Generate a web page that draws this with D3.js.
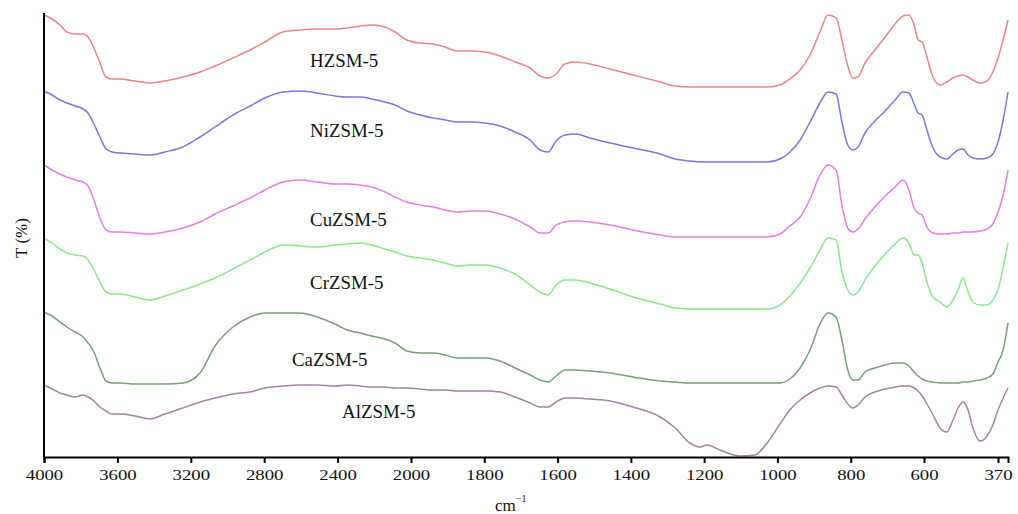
<!DOCTYPE html>
<html>
<head>
<meta charset="utf-8">
<script src="https://cdn.jsdelivr.net/npm/d3@7"></script>
<style>
  body { margin: 0; background: #fff; }
  text { font-family: "Liberation Serif", "Times New Roman", serif; fill: #111; }
</style>
</head>
<body>
<svg id="chart" width="1018" height="514"></svg>
<script>
// wavenumber grid (cm-1), shared by all spectra
var wavenumbers = [4000, 3956, 3913, 3875, 3831, 3787, 3760, 3728, 3695, 3662, 3629, 3586, 3504, 3422, 3341, 3243,
  3150, 3068, 2970, 2877, 2796, 2698, 2605, 2512, 2414, 2349, 2278, 2213, 2142, 2087, 2022, 1975, 1940, 1907,
  1874, 1839, 1798, 1757, 1716, 1675, 1648, 1626, 1604, 1580, 1552, 1512, 1457, 1394, 1320, 1279, 1239, 1211,
  1192, 1157, 1102, 1061, 1028, 993, 966, 938, 911, 884, 862, 840, 824, 808, 794, 780, 761, 734, 706, 679, 657,
  641, 627, 616, 605, 591, 572, 550, 529, 510, 494, 479, 463, 448, 426, 404, 386, 370, 354, 339];

// transmittance, stacked with offsets (arbitrary units)
var hzsm = [442, 438, 432, 425, 423, 423, 420, 409, 394, 380, 378, 378, 376, 374, 376, 380, 385, 391, 399, 407,
  415, 425, 427, 428, 428, 429, 431, 432, 430, 425, 417, 414, 413, 410, 406, 406, 405, 401, 395, 389, 381, 379,
  383, 393, 395, 393, 388, 382, 375, 371, 370, 370, 370, 370, 370, 370, 370, 372, 378, 387, 402, 425, 442, 439,
  417, 391, 379, 380, 394, 407, 420, 433, 441, 442, 432, 417, 415, 400, 380, 372, 375, 379, 381, 382, 380, 377,
  374, 376, 385, 399, 417, 437];
var nizsm = [366, 362, 357, 354, 351, 348, 344, 333, 320, 308, 305, 304, 303, 302, 305, 310, 320, 330, 342, 351,
  359, 365, 366, 364, 361, 360, 360, 358, 355, 352, 346, 342, 339, 337, 335, 335, 334, 331, 325, 317, 307, 305,
  316, 322, 323, 319, 314, 309, 303, 298, 296, 295, 295, 295, 295, 295, 295, 298, 305, 317, 335, 354, 365, 363,
  335, 312, 307, 310, 324, 336, 346, 357, 365, 364, 353, 344, 342, 327, 309, 300, 298, 303, 307, 308, 302, 299,
  298, 299, 303, 315, 337, 365];
var cuzsm = [292, 287, 283, 280, 277, 275, 271, 257, 239, 227, 225, 225, 224, 223, 225, 229, 235, 243, 251, 259,
  267, 275, 277, 275, 273, 273, 272, 270, 265, 260, 255, 252, 250, 247, 245, 246, 246, 243, 238, 230, 224, 224,
  232, 235, 236, 235, 232, 227, 222, 220, 220, 220, 220, 220, 220, 220, 220, 223, 231, 240, 258, 282, 292, 287,
  252, 229, 225, 228, 238, 250, 261, 270, 277, 267, 249, 244, 242, 230, 224, 223, 223, 224, 224, 225, 225, 225,
  226, 228, 233, 245, 262, 287];
var crzsm = [219, 214, 208, 204, 202, 201, 197, 187, 175, 165, 163, 163, 160, 157, 161, 167, 173, 179, 188, 197,
  205, 212, 211, 210, 212, 213, 214, 212, 208, 205, 201, 199, 197, 194, 191, 192, 192, 189, 183, 172, 165, 162,
  172, 177, 177, 174, 168, 160, 153, 149, 148, 148, 148, 148, 148, 148, 148, 152, 161, 174, 189, 207, 219, 217,
  185, 167, 162, 165, 177, 191, 203, 213, 219, 214, 202, 202, 194, 175, 160, 155, 150, 157, 167, 179, 165, 155,
  152, 152, 157, 167, 190, 214];
var cazsm = [145, 141, 135, 130, 125, 120, 114, 105, 89, 76, 74, 74, 73, 73, 73, 74, 84, 111, 130, 140, 144, 144,
  144, 140, 133, 127, 124, 121, 118, 114, 106, 104, 104, 102, 99, 99, 99, 96, 89, 82, 77, 75, 81, 87, 87, 86, 84,
  80, 76, 75, 74, 74, 74, 74, 74, 74, 74, 74, 78, 89, 107, 133, 144, 140, 117, 87, 77, 77, 85, 89, 92, 94, 94, 91,
  85, 81, 78, 76, 75, 74, 74, 74, 74, 75, 75, 76, 77, 79, 83, 95, 107, 134];
var alzsm = [72, 68, 64, 62, 60, 62, 60, 56, 50, 46, 43, 43, 41, 38, 43, 49, 55, 59, 63, 65, 69, 71, 72, 72, 71,
  72, 71, 70, 70, 69, 69, 68, 67, 67, 66, 66, 66, 65, 60, 54, 50, 50, 55, 59, 59, 58, 56, 50, 40, 29, 14, 10, 12,
  7, 1, 2, 14, 33, 47, 57, 64, 69, 71, 70, 62, 53, 49, 52, 60, 65, 68, 70, 71, 71, 69, 66, 61, 53, 42, 29, 25, 37,
  49, 55, 47, 29, 16, 21, 32, 47, 59, 69];

var seriesNames = ["HZSM-5", "NiZSM-5", "CuZSM-5", "CrZSM-5", "CaZSM-5", "AlZSM-5"];
var seriesValues = [hzsm, nizsm, cuzsm, crzsm, cazsm, alzsm];
var seriesColors = ["#ec8585", "#7878e6", "#e67ee6", "#8ce88c", "#74a274", "#a483a4"];
// where each name sits: [wavenumber, T]
var labelAnchors = [[2550, 390], [2550, 320], [2550, 231], [2550, 168], [2649, 91], [2376, 39]];

var tickValues = [4000, 3600, 3200, 2800, 2400, 2000, 1800, 1600, 1400, 1200, 1000, 800, 600, 370];

var svg = d3.select("#chart");

// the axis is compressed above 2000 cm-1, like the spectrometer printout
var x = d3.scaleLinear()
  .domain([4000, 2000, 600, 370, 339])
  .range([44, 411, 924, 998, 1008]);
var y = d3.scaleLinear().domain([0, 443]).range([457, 14]);

var line = d3.line()
  .x(function(d) { return x(d[0]); })
  .y(function(d) { return y(d[1]); })
  .curve(d3.curveMonotoneX);

seriesValues.forEach(function(vals, i) {
  var pts = wavenumbers.map(function(w, j) { return [w, vals[j]]; });
  svg.append("path")
    .datum(pts)
    .attr("fill", "none")
    .attr("stroke", seriesColors[i])
    .attr("stroke-width", 1.5)
    .attr("stroke-linejoin", "round")
    .attr("d", line);
});

seriesNames.forEach(function(name, i) {
  svg.append("text")
    .attr("transform", "translate(" + x(labelAnchors[i][0]) + "," + y(labelAnchors[i][1]) + ") scale(1.05,1)")
    .attr("font-size", 18)
    .text(name);
});

var xAxis = svg.append("g")
  .attr("transform", "translate(0," + y(0) + ")")
  .call(d3.axisBottom(x).tickValues(tickValues).tickFormat(d3.format("d")).tickSize(6).tickSizeOuter(6));
xAxis.select(".domain").attr("stroke", "#000").attr("stroke-width", 2);
xAxis.selectAll(".tick line").attr("stroke", "#000").attr("stroke-width", 2);
xAxis.selectAll(".tick text")
  .attr("font-family", "Liberation Serif, Times New Roman, serif")
  .attr("font-size", 15)
  .attr("fill", "#111")
  .attr("y", 10)
  .attr("dy", "0.9em")
  .attr("transform", "scale(1.25,1)");

svg.append("line")
  .attr("x1", x(4000)).attr("x2", x(4000))
  .attr("y1", y(444)).attr("y2", y(0))
  .attr("stroke", "#000").attr("stroke-width", 2);

svg.append("text")
  .attr("transform", "translate(27,238) rotate(-90)")
  .attr("text-anchor", "middle")
  .attr("font-size", 17)
  .text("T (%)");

var unit = svg.append("text")
  .attr("x", 495).attr("y", 511)
  .attr("font-size", 17)
  .text("cm");
unit.append("tspan")
  .attr("dy", -9)
  .attr("font-size", 10)
  .text("\u22121");
</script>
</body>
</html>
